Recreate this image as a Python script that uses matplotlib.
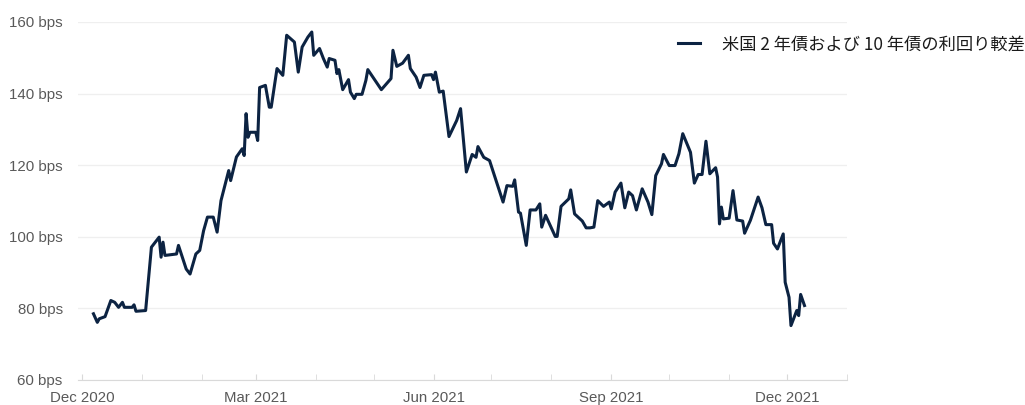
import matplotlib
matplotlib.use("Agg")
import matplotlib.pyplot as plt
import matplotlib.dates as mdates
import pandas as pd

# spread between US 2y and 10y yields (days after 2020-12-01, bps)
start_date = "2020-12-01"
day_offsets = [
    6, 8, 9, 12, 15, 17, 19, 21, 22, 26, 27, 28, 33, 36, 40, 41, 42, 43, 49, 50,
    54, 56, 59, 61, 63, 65, 68, 70, 72, 76, 77, 80, 83, 84, 85, 86, 87, 90, 91, 92,
    95, 97, 98, 101, 104, 106, 110, 112, 114, 117, 119, 120, 123, 125, 127, 128, 131, 132, 133, 135,
    138, 139, 141, 142, 145, 147, 148, 155, 160, 161, 163, 166, 169, 170, 173, 175, 177, 181, 182, 183,
    185, 187, 190, 194, 196, 199, 202, 204, 205, 208, 211, 218, 220, 223, 224, 226, 227, 230, 232, 235,
    237, 238, 240, 245, 246, 248, 252, 253, 255, 259, 261, 263, 265, 267, 270, 273, 274, 276, 279, 281,
    283, 285, 287, 290, 293, 295, 297, 300, 301, 304, 307, 309, 311, 315, 317, 319, 321, 323, 325, 328,
    329, 330, 331, 332, 335, 337, 339, 342, 343, 346, 350, 352, 354, 357, 358, 360, 363, 364, 366, 367,
    370, 371, 372, 374,
]
spread_bps = [
    78.5, 76.1, 77.1, 77.7, 82.2, 81.7, 80.3, 81.7, 80.3, 80.3, 81.0, 79.2, 79.4, 97.1, 99.9, 94.3, 98.5, 94.8, 95.2, 97.6,
    91.0, 89.6, 95.2, 96.2, 101.7, 105.5, 105.5, 101.3, 110.1, 118.5, 115.7, 122.3, 124.6, 122.7, 134.4, 127.8, 129.2, 129.2, 126.9, 141.7,
    142.3, 136.2, 136.2, 147.0, 145.1, 156.3, 154.4, 146.0, 153.0, 155.8, 157.2, 150.7, 152.6, 149.8, 147.4, 149.8, 149.3, 145.6, 146.7, 141.1,
    143.9, 140.4, 138.6, 139.8, 139.8, 143.7, 146.7, 141.1, 144.2, 152.1, 147.6, 148.5, 150.7, 147.0, 144.6, 141.7, 145.1, 145.3, 143.9, 146.0,
    140.4, 140.7, 128.0, 132.5, 135.8, 118.1, 123.0, 122.2, 125.2, 122.2, 121.3, 109.7, 114.3, 114.1, 115.9, 106.9, 106.6, 97.6, 107.5, 107.5,
    109.2, 102.7, 106.0, 100.1, 100.1, 108.5, 110.6, 113.1, 106.4, 104.4, 102.5, 102.5, 102.7, 110.1, 108.5, 109.7, 107.8, 112.5, 115.0, 108.1,
    112.5, 111.5, 107.5, 113.4, 109.7, 106.2, 117.1, 120.4, 123.0, 119.9, 119.9, 123.2, 128.8, 123.6, 115.0, 117.4, 117.4, 126.7, 117.6, 119.3,
    116.7, 103.6, 108.3, 105.0, 105.2, 112.9, 104.7, 104.4, 101.0, 104.6, 111.1, 108.1, 103.4, 103.4, 98.2, 96.6, 100.8, 87.3, 83.1, 75.2,
    79.4, 78.0, 83.9, 80.8,
]
y_ticks = [60, 80, 100, 120, 140, 160]
series_label = "米国 2 年債および 10 年債の利回り較差"

dates = pd.Timestamp(start_date) + pd.to_timedelta(day_offsets, unit="D")

plt.rcParams['font.family'] = ['Liberation Sans', 'DejaVu Sans']

fig = plt.figure(figsize=(10.25, 4.05), dpi=100)
ax = fig.add_axes([78 / 1025, 25 / 405, 769 / 1025, 358 / 405])

ax.plot(dates, spread_bps, color='#0c2342', linewidth=2.2, label=series_label)

ax.set_ylim(60, 160)
ax.set_xlim(pd.Timestamp("2020-11-29"), pd.Timestamp("2022-01-01"))
ax.set_yticks(y_ticks)
ax.set_yticklabels([f"{v} bps" for v in y_ticks])

ax.xaxis.set_major_locator(mdates.MonthLocator(bymonth=[3, 6, 9, 12]))
ax.xaxis.set_minor_locator(mdates.MonthLocator())
ax.xaxis.set_major_formatter(mdates.DateFormatter("%b %Y"))

ax.grid(axis='y', color='#efefef', linewidth=0.9)
ax.set_axisbelow(True)
for side in ['top', 'right', 'left']:
    ax.spines[side].set_visible(False)
ax.spines['bottom'].set_color('#d9d9d9')

ax.tick_params(axis='y', length=0, pad=11, labelsize=10.8, labelcolor='#595959')
ax.tick_params(axis='x', which='both', direction='in', length=4, color='#d9d9d9',
               pad=8, labelsize=10.8, labelcolor='#595959')

leg = ax.legend(loc='upper left', bbox_to_anchor=(662 / 1025, 1 - 20 / 405),
                bbox_transform=fig.transFigure, frameon=False,
                handlelength=1.28, handletextpad=1.28,
                prop={'family': ['Noto Sans CJK JP', 'DejaVu Sans'], 'size': 12.4})
for t in leg.get_texts():
    t.set_color('#1a1a1a')

fig.savefig('out.png', dpi=100)
